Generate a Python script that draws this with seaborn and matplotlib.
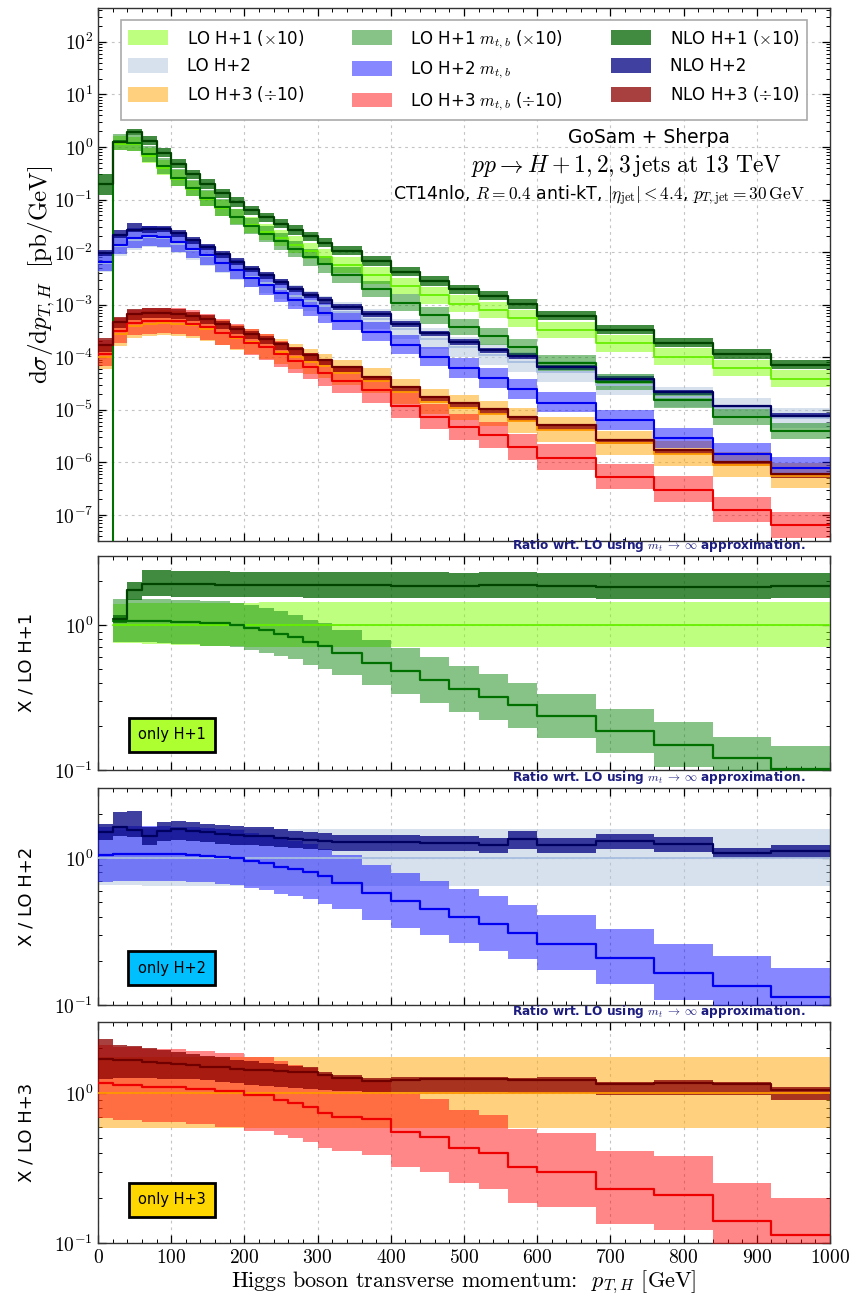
import numpy as np
import pandas as pd
import matplotlib
matplotlib.use("Agg")
import matplotlib.pyplot as plt
import seaborn as sns
from matplotlib.ticker import LogLocator, MultipleLocator, FuncFormatter, NullFormatter
from matplotlib.patches import Patch

# ---------------- data ----------------
EDGES = [0, 20, 40, 60, 80, 100, 120, 140, 160, 180, 200, 220, 240, 260, 280, 300, 320,
         360, 400, 440, 480, 520, 560, 600, 680, 760, 840, 920, 1000]

nan = np.nan
# LO (m_t -> infinity) central values, pb/GeV (physical, before x10 / /10)
LO1 = [0, 0.115, 0.112, 0.068, 0.040, 0.025, 0.0158, 0.0104, 0.0069, 0.0047, 0.0033, 0.00242,
       0.00184, 0.00139, 0.00105, 0.00081, 0.00057, 0.00036, 0.000228, 0.000150, 0.000105,
       0.000079, 0.000055, 0.000033, 0.0000183, 0.0000103, 0.0000062, 0.0000039]
LO2 = [0.0063, 0.0130, 0.0170, 0.0190, 0.0182, 0.0145, 0.0110, 0.0084, 0.0062, 0.0046, 0.0034,
       0.00255, 0.00195, 0.00148, 0.00116, 0.00093, 0.00072, 0.00053, 0.00034, 0.000225,
       0.000155, 0.000112, 0.000080, 0.000053, 0.000030, 0.0000175, 0.0000108, 0.0000070]
LO3 = [0.0010, 0.0028, 0.00398, 0.00438, 0.00444, 0.00436, 0.00403, 0.00351, 0.00285, 0.00236,
       0.00194, 0.00159, 0.00126, 0.00101, 0.00081, 0.00067, 0.00051, 0.00035, 0.000217,
       0.000143, 0.000109, 0.000082, 0.000061, 0.000041, 0.000023, 0.0000145, 0.0000089,
       0.0000056]
# NLO H+1 in the first bin (LO H+1 vanishes there), pb/GeV: low, central, high
NLO1_BIN0 = [0.012, 0.0195, 0.031]

# ratios to LO central: LO scale band
LO1_LO = [nan, 0.75, 0.75, 0.74, 0.74, 0.73, 0.73, 0.72, 0.72, 0.72, 0.71, 0.71, 0.71, 0.70,
          0.70, 0.70, 0.70, 0.70, 0.70, 0.70, 0.70, 0.70, 0.70, 0.70, 0.70, 0.70, 0.70, 0.70]
LO1_HI = [nan, 1.40, 1.41, 1.42, 1.42, 1.43, 1.43, 1.43, 1.43, 1.43, 1.43, 1.44, 1.44, 1.44,
          1.44, 1.44, 1.44, 1.44, 1.44, 1.44, 1.44, 1.44, 1.44, 1.44, 1.44, 1.44, 1.44, 1.44]
LO2_LO = [0.66, 0.66, 0.66, 0.65, 0.65, 0.65, 0.65, 0.65, 0.65, 0.65, 0.65, 0.65, 0.65, 0.65,
          0.65, 0.65, 0.65, 0.65, 0.65, 0.65, 0.65, 0.65, 0.65, 0.65, 0.65, 0.65, 0.65, 0.65]
LO2_HI = [1.56, 1.56, 1.57, 1.57, 1.58, 1.58, 1.58, 1.58, 1.58, 1.58, 1.58, 1.58, 1.58, 1.58,
          1.58, 1.58, 1.58, 1.58, 1.58, 1.58, 1.58, 1.58, 1.58, 1.58, 1.58, 1.58, 1.58, 1.58]
LO3_LO = [0.59, 0.59, 0.59, 0.59, 0.59, 0.59, 0.59, 0.59, 0.59, 0.59, 0.59, 0.59, 0.59, 0.59,
          0.59, 0.59, 0.59, 0.59, 0.59, 0.59, 0.59, 0.59, 0.59, 0.59, 0.59, 0.59, 0.59, 0.59]
LO3_HI = [1.76, 1.76, 1.76, 1.76, 1.76, 1.76, 1.76, 1.76, 1.76, 1.76, 1.76, 1.76, 1.76, 1.76,
          1.76, 1.76, 1.76, 1.76, 1.76, 1.76, 1.76, 1.76, 1.76, 1.76, 1.76, 1.76, 1.76, 1.76]

# LO with full m_t, m_b dependence, ratio to LO central
MTB1 = [nan, 1.07, 1.07, 1.07, 1.07, 1.05, 1.05, 1.03, 1.03, 1.00, 0.96, 0.92, 0.87, 0.83,
        0.76, 0.72, 0.64, 0.55, 0.48, 0.42, 0.36, 0.32, 0.28, 0.235, 0.186, 0.149, 0.12, 0.102]
MTB1_LO = [nan, 0.76, 0.76, 0.76, 0.75, 0.74, 0.74, 0.72, 0.72, 0.70, 0.67, 0.64, 0.61, 0.58,
           0.53, 0.50, 0.45, 0.385, 0.335, 0.29, 0.25, 0.22, 0.195, 0.165, 0.13, 0.104, 0.084,
           0.071]
MTB1_HI = [nan, 1.52, 1.52, 1.52, 1.52, 1.50, 1.50, 1.47, 1.47, 1.43, 1.37, 1.31, 1.24, 1.18,
           1.09, 1.03, 0.92, 0.79, 0.69, 0.60, 0.52, 0.46, 0.40, 0.335, 0.265, 0.213, 0.17,
           0.146]
MTB2 = [1.05, 1.06, 1.07, 1.07, 1.07, 1.06, 1.05, 1.04, 1.02, 1.00, 0.96, 0.92, 0.87, 0.84,
        0.80, 0.75, 0.68, 0.58, 0.51, 0.45, 0.40, 0.355, 0.31, 0.26, 0.21, 0.165, 0.135, 0.113]
MTB2_LO = [0.69, 0.70, 0.70, 0.70, 0.70, 0.70, 0.69, 0.69, 0.67, 0.66, 0.63, 0.61, 0.57, 0.55,
           0.53, 0.49, 0.45, 0.38, 0.335, 0.30, 0.265, 0.235, 0.205, 0.172, 0.139, 0.109,
           0.089, 0.075]
MTB2_HI = [1.62, 1.64, 1.66, 1.66, 1.66, 1.64, 1.63, 1.61, 1.58, 1.55, 1.49, 1.43, 1.35, 1.30,
           1.24, 1.16, 1.05, 0.90, 0.79, 0.70, 0.62, 0.55, 0.48, 0.41, 0.33, 0.26, 0.215, 0.18]
MTB3 = [1.17, 1.13, 1.13, 1.10, 1.10, 1.10, 1.07, 1.07, 1.03, 1.03, 0.97, 0.97, 0.91, 0.86,
        0.815, 0.74, 0.70, 0.67, 0.55, 0.51, 0.43, 0.40, 0.32, 0.30, 0.23, 0.21, 0.14, 0.113]
MTB3_LO = [0.68, 0.66, 0.66, 0.64, 0.64, 0.64, 0.62, 0.62, 0.60, 0.60, 0.56, 0.56, 0.53, 0.50,
           0.47, 0.43, 0.41, 0.39, 0.32, 0.30, 0.25, 0.23, 0.186, 0.174, 0.133, 0.122, 0.081,
           0.066]
MTB3_HI = [2.10, 2.03, 2.03, 1.98, 1.98, 1.98, 1.93, 1.93, 1.85, 1.85, 1.75, 1.75, 1.64, 1.55,
           1.47, 1.33, 1.26, 1.21, 0.99, 0.92, 0.77, 0.72, 0.58, 0.54, 0.41, 0.38, 0.25, 0.20]

# NLO (m_t -> infinity), ratio to LO central
NLO1 = [nan, 1.10, 1.75, 1.92, 1.92, 1.92, 1.91, 1.91, 1.90, 1.90, 1.90, 1.89, 1.89, 1.89,
        1.89, 1.88, 1.88, 1.88, 1.87, 1.87, 1.86, 1.88, 1.88, 1.86, 1.84, 1.84, 1.83, 1.86]
NLO1_LO = [nan, 1.03, 1.48, 1.58, 1.58, 1.57, 1.57, 1.56, 1.56, 1.55, 1.55, 1.55, 1.55, 1.55,
           1.54, 1.54, 1.54, 1.54, 1.53, 1.53, 1.53, 1.54, 1.54, 1.53, 1.52, 1.52, 1.51, 1.53]
NLO1_HI = [nan, 1.17, 1.98, 2.38, 2.38, 2.37, 2.36, 2.35, 2.35, 2.34, 2.33, 2.33, 2.33, 2.33,
           2.32, 2.32, 2.32, 2.32, 2.31, 2.31, 2.30, 2.33, 2.33, 2.30, 2.28, 2.28, 2.27, 2.30]
NLO2 = [1.50, 1.62, 1.55, 1.42, 1.54, 1.57, 1.54, 1.50, 1.46, 1.44, 1.42, 1.42, 1.38, 1.35,
        1.33, 1.31, 1.28, 1.28, 1.28, 1.26, 1.26, 1.22, 1.35, 1.22, 1.31, 1.24, 1.08, 1.11]
NLO2_LO = [1.32, 1.42, 1.40, 1.22, 1.30, 1.32, 1.30, 1.28, 1.25, 1.23, 1.22, 1.21, 1.19, 1.17,
           1.15, 1.13, 1.12, 1.12, 1.12, 1.11, 1.11, 1.08, 1.16, 1.08, 1.15, 1.10, 1.00, 1.01]
NLO2_HI = [1.72, 2.05, 2.08, 1.63, 1.76, 1.80, 1.77, 1.72, 1.68, 1.65, 1.63, 1.62, 1.58, 1.54,
           1.51, 1.48, 1.44, 1.44, 1.44, 1.42, 1.42, 1.37, 1.52, 1.37, 1.47, 1.39, 1.17, 1.22]
NLO3 = [1.70, 1.68, 1.66, 1.62, 1.60, 1.56, 1.54, 1.51, 1.49, 1.46, 1.44, 1.43, 1.41, 1.40,
        1.38, 1.32, 1.26, 1.21, 1.23, 1.24, 1.24, 1.24, 1.22, 1.23, 1.16, 1.17, 1.16, 1.06]
NLO3_LO = [1.24, 1.27, 1.27, 1.26, 1.25, 1.24, 1.24, 1.22, 1.20, 1.17, 1.14, 1.12, 1.10, 1.08,
           1.07, 1.05, 1.03, 1.02, 1.02, 1.02, 1.02, 1.02, 1.01, 1.01, 0.97, 0.98, 0.97, 0.90]
NLO3_HI = [2.30, 2.10, 2.07, 2.00, 1.95, 1.88, 1.84, 1.78, 1.74, 1.68, 1.64, 1.60, 1.56, 1.53,
           1.50, 1.40, 1.32, 1.27, 1.28, 1.29, 1.29, 1.29, 1.27, 1.28, 1.20, 1.22, 1.20, 1.11]

SCALES = [10.0, 1.0, 0.1]
MULT_LABELS = ["H+1", "H+2", "H+3"]
SCALE_TXT = [r" ($\times$10)", "", r" ($\div$10)"]
BOX_COLORS = ["#ADFF2F", "#00BFFF", "#FFD700"]

# ---------------- style ----------------
sns.set_theme(style="ticks")
plt.rcParams.update({
    "font.family": ["DejaVu Sans"],
    "mathtext.fontset": "cm",
    "axes.edgecolor": "black",
    "axes.linewidth": 1.0,
    "axes.unicode_minus": False,
    "xtick.color": "black",
    "ytick.color": "black",
    "text.color": "black",
    "axes.labelcolor": "black",
})

series = {
    1: dict(lo=LO1, lolo=LO1_LO, lohi=LO1_HI, m=MTB1, mlo=MTB1_LO, mhi=MTB1_HI,
            n=NLO1, nlo=NLO1_LO, nhi=NLO1_HI,
            c_lo="#7FFF00", c_lol="#66EE00", c_m="#008000", c_ml="#007000",
            c_n="#006400", c_nl="#004400"),
    2: dict(lo=LO2, lolo=LO2_LO, lohi=LO2_HI, m=MTB2, mlo=MTB2_LO, mhi=MTB2_HI,
            n=NLO2, nlo=NLO2_LO, nhi=NLO2_HI,
            c_lo="#B0C4DE", c_lol="#A8BEE0", c_m="#0000FF", c_ml="#0000F0",
            c_n="#000080", c_nl="#000060"),
    3: dict(lo=LO3, lolo=LO3_LO, lohi=LO3_HI, m=MTB3, mlo=MTB3_LO, mhi=MTB3_HI,
            n=NLO3, nlo=NLO3_LO, nhi=NLO3_HI,
            c_lo="#FFA500", c_lol="#FF9900", c_m="#FF0000", c_ml="#EE0000",
            c_n="#8B0000", c_nl="#700000"),
}
A_LO, A_M, A_N = 0.5, 0.47, 0.75

edges = np.array(EDGES, dtype=float)


def ext(v):
    v = np.asarray(v, dtype=float)
    return np.append(v, v[-1])


def band(ax, lo, hi, color, alpha, z):
    ax.fill_between(edges, ext(lo), ext(hi), step="post", color=color, alpha=alpha,
                    lw=0, zorder=z)


def line(ax, vals, color, lw, z):
    df = pd.DataFrame({"x": edges, "y": ext(vals)})
    sns.lineplot(data=df, x="x", y="y", ax=ax, color=color, lw=lw, drawstyle="steps-post",
                 estimator=None, sort=False, errorbar=None, legend=False, zorder=z)


fig = plt.figure(figsize=(8.55, 12.94), dpi=100)
L, W = 0.1146, 0.8562
ax0 = fig.add_axes([L, 0.5819, W, 0.4119])
axr = [fig.add_axes([L, 0.4050, W, 0.1654]),
       fig.add_axes([L, 0.2233, W, 0.1677]),
       fig.add_axes([L, 0.0394, W, 0.1708])]

# ---------------- main panel ----------------
z = 2
for k in (3, 2, 1):
    s = series[k]
    f = SCALES[k - 1]
    lo = np.asarray(s["lo"], float) * f
    band(ax0, lo * np.asarray(s["lolo"]), lo * np.asarray(s["lohi"]), s["c_lo"], A_LO, z); z += 1
    band(ax0, lo * np.asarray(s["mlo"]), lo * np.asarray(s["mhi"]), s["c_m"], A_M, z); z += 1
    nlo_lo = lo * np.asarray(s["nlo"])
    nlo_hi = lo * np.asarray(s["nhi"])
    if k == 1:
        nlo_lo[0] = NLO1_BIN0[0] * f
        nlo_hi[0] = NLO1_BIN0[2] * f
    band(ax0, nlo_lo, nlo_hi, s["c_n"], A_N, z); z += 1

for k in (3, 2, 1):
    s = series[k]
    f = SCALES[k - 1]
    lo = np.asarray(s["lo"], float) * f
    line(ax0, lo, s["c_lol"], 1.3, 20)
    mline = np.nan_to_num(lo * np.asarray(s["m"]), nan=0.0)
    line(ax0, mline, s["c_ml"], 1.5, 21)
    nline = lo * np.asarray(s["n"])
    if k == 1:
        nline[0] = NLO1_BIN0[1] * f
    line(ax0, nline, s["c_nl"], 1.6, 22)

ax0.set_yscale("log")
ax0.set_xlim(0, 1000)
ax0.set_ylim(3.2e-8, 4.4e2)

# ---------------- ratio panels ----------------
for i, k in enumerate((1, 2, 3)):
    ax = axr[i]
    s = series[k]
    ones = np.where(np.asarray(s["lo"], float) > 0, 1.0, np.nan)
    band(ax, s["lolo"], s["lohi"], s["c_lo"], A_LO, 2)
    band(ax, s["mlo"], s["mhi"], s["c_m"], A_M, 3)
    band(ax, s["nlo"], s["nhi"], s["c_n"], A_N, 4)
    line(ax, ones, s["c_lol"], 1.3, 20)
    line(ax, s["m"], s["c_ml"], 1.6, 21)
    line(ax, s["n"], s["c_nl"], 1.6, 22)
    ax.set_yscale("log")
    ax.set_xlim(0, 1000)
    ax.set_ylim(0.1, 3.0)
    ax.text(0.966, 1.008, r"Ratio wrt. LO using $m_t\;\rightarrow\;\infty$ approximation.",
            transform=ax.transAxes, ha="right", va="bottom", fontsize=8.7,
            fontweight="bold", color="#1c1c80")
    ax.set_ylabel("X / LO " + MULT_LABELS[i], fontsize=13)
    ax.yaxis.set_label_coords(-0.085, 0.5)
    ax.text(0.101, [0.164, 0.17, 0.195][i], "only " + MULT_LABELS[i], transform=ax.transAxes,
            ha="center", va="center", fontsize=10.5, zorder=30,
            bbox=dict(boxstyle="square,pad=0.65", facecolor=BOX_COLORS[i],
                      edgecolor="black", lw=2.0))

# ---------------- axes cosmetics ----------------
cm_int = FuncFormatter(lambda v, p: rf"${v:.0f}$")
cm_pow = FuncFormatter(lambda v, p: rf"$10^{{{int(round(np.log10(v)))}}}$" if v > 0 else "")
for ax in [ax0] + axr:
    ax.set_axisbelow(True)
    ax.grid(True, which="major", ls=(0, (2.5, 3.5)), color="#c4c4c4", lw=0.8)
    ax.xaxis.set_major_locator(MultipleLocator(100))
    ax.xaxis.set_minor_locator(MultipleLocator(20))
    ax.yaxis.set_major_locator(LogLocator(base=10, numticks=30))
    ax.yaxis.set_minor_locator(LogLocator(base=10, subs=np.arange(2, 10), numticks=30))
    ax.yaxis.set_major_formatter(cm_pow)
    ax.yaxis.set_minor_formatter(NullFormatter())
    ax.tick_params(which="both", direction="in", top=True, right=True, labelsize=14)
    ax.tick_params(which="major", length=6, width=0.9)
    ax.tick_params(which="minor", length=3, width=0.7)
    ax.set_xlabel("")
    for sp in ax.spines.values():
        sp.set_color("#333333")
        sp.set_linewidth(1.0)

for ax in [ax0, axr[0], axr[1]]:
    ax.tick_params(labelbottom=False)
axr[2].xaxis.set_major_formatter(cm_int)
axr[2].set_xlabel(r"Higgs boson transverse momentum:  $p_{T,H}$ [GeV]",
                  fontsize=16, labelpad=1, fontfamily="cmr10")

ax0.set_ylabel(r"$\mathrm{d}\sigma/\mathrm{d}p_{T,H}\ \ [\mathrm{pb/GeV}]$", fontsize=18)
ax0.yaxis.set_label_coords(-0.056, 0.5)

# annotations
ax0.text(0.752, 0.757, "GoSam + Sherpa", transform=ax0.transAxes, ha="center", va="center",
         fontsize=13.5)
ax0.text(0.722, 0.703, r"$pp \rightarrow H+1,2,3\,\mathrm{jets\ at\ 13\ TeV}$",
         transform=ax0.transAxes, ha="center", va="center", fontsize=17)
ax0.text(0.966, 0.647,
         r"CT14nlo, $R=0.4$ anti-kT, $|\eta_{\mathrm{jet}}|<4.4$, $p_{T,\mathrm{jet}}=30\,\mathrm{GeV}$",
         transform=ax0.transAxes, ha="right", va="center", fontsize=12.5)

# legend
handles = []
labels = []
for kind in ("lo", "m", "n"):
    for k in (1, 2, 3):
        s = series[k]
        if kind == "lo":
            handles.append(Patch(facecolor=s["c_lo"], alpha=A_LO, edgecolor="none"))
            labels.append("LO " + MULT_LABELS[k - 1] + SCALE_TXT[k - 1])
        elif kind == "m":
            handles.append(Patch(facecolor=s["c_m"], alpha=A_M, edgecolor="none"))
            labels.append("LO " + MULT_LABELS[k - 1] + r" $m_{t,b}$" + SCALE_TXT[k - 1])
        else:
            handles.append(Patch(facecolor=s["c_n"], alpha=A_N, edgecolor="none"))
            labels.append("NLO " + MULT_LABELS[k - 1] + SCALE_TXT[k - 1])
leg = ax0.legend(handles, labels, ncol=3, loc="upper left",
                 bbox_to_anchor=(0.02, 0.818, 0.96, 0.175), mode="expand",
                 fontsize=12.0, frameon=True, fancybox=False, edgecolor="#aaaaaa",
                 framealpha=1.0, handlelength=2.4, handleheight=1.0, labelspacing=0.55,
                 handletextpad=1.1, borderpad=0.45, columnspacing=0.8)
leg.get_frame().set_linewidth(1.2)
leg.set_zorder(40)

fig.savefig("out.png", dpi=100)
